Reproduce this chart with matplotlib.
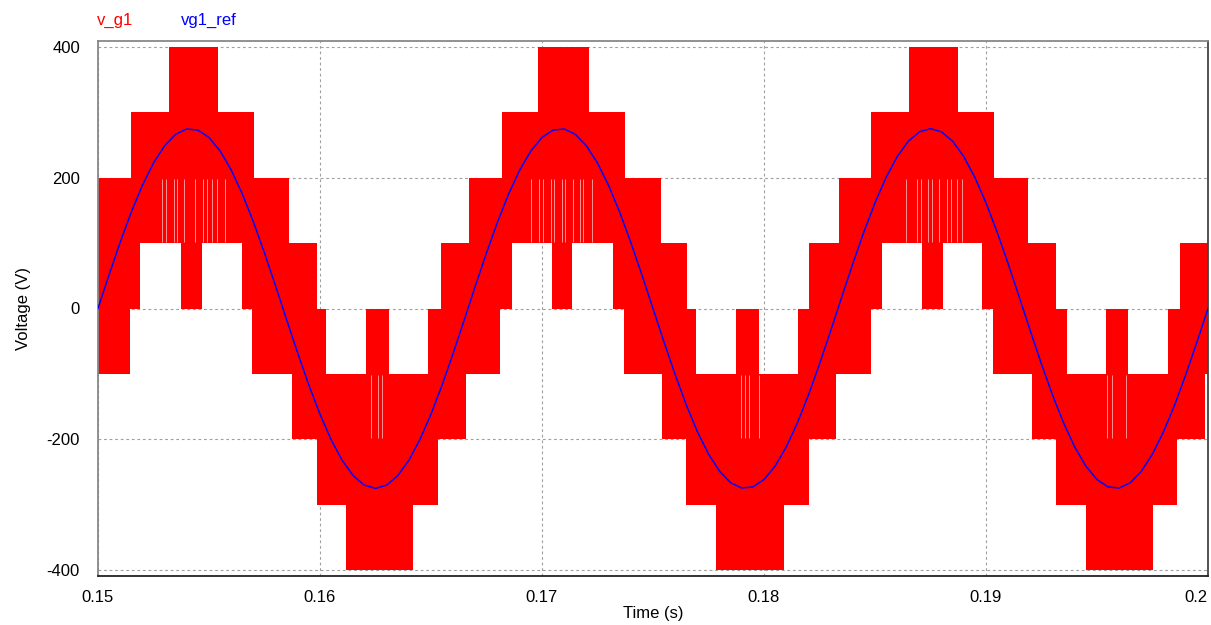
import matplotlib
matplotlib.use("Agg")
import matplotlib.pyplot as plt

plt.rcParams['font.family'] = ['Liberation Sans', 'DejaVu Sans']
plt.rcParams['axes.unicode_minus'] = False

# vg1_ref read every 0.5 ms from 0.15 s to 0.2 s (V)
t_ref = [0.15 + 0.0005 * k for k in range(101)]
vg1_ref = [0, 51.5, 101.2, 147.4, 188.3, 222.5, 248.8, 266.4, 274.5, 272.8,
           261.5, 241.0, 211.9, 175.3, 132.5, 85.0, 34.5, -17.3, -68.4, -117.1,
           -161.6, -200.5, -232.2, -255.7, -270.1, -275.0, -270.1, -255.7, -232.2, -200.5,
           -161.6, -117.1, -68.4, -17.3, 34.5, 85.0, 132.5, 175.3, 211.9, 241.0,
           261.5, 272.8, 274.5, 266.4, 248.8, 222.5, 188.3, 147.4, 101.2, 51.5,
           0, -51.5, -101.2, -147.4, -188.3, -222.5, -248.8, -266.4, -274.5, -272.8,
           -261.5, -241.0, -211.9, -175.3, -132.5, -85.0, -34.5, 17.3, 68.4, 117.1,
           161.6, 200.5, 232.2, 255.7, 270.1, 275.0, 270.1, 255.7, 232.2, 200.5,
           161.6, 117.1, 68.4, 17.3, -34.5, -85.0, -132.5, -175.3, -211.9, -241.0,
           -261.5, -272.8, -274.5, -266.4, -248.8, -222.5, -188.3, -147.4, -101.2, -51.5,
           0]

# v_g1 switching: time spans (s) where the output toggles inside each 100 V band
band_low = [300, 200, 100, 0, -100, -200, -300, -400]
band_spans = [
    [(0.15320, 0.15541), (0.16982, 0.17212), (0.18653, 0.18874)],
    [(0.15149, 0.15703), (0.16820, 0.17374), (0.18482, 0.19036)],
    [(0.15000, 0.15860), (0.16671, 0.17536), (0.18338, 0.19189)],
    [(0.15000, 0.15189), (0.15374, 0.15468), (0.15649, 0.15986), (0.16545, 0.16865),
     (0.17045, 0.17135), (0.17320, 0.17653), (0.18203, 0.18532), (0.18712, 0.18806),
     (0.18982, 0.19315), (0.19874, 0.20000)],
    [(0.15000, 0.15144), (0.15694, 0.16027), (0.16207, 0.16311), (0.16486, 0.16811),
     (0.17369, 0.17694), (0.17874, 0.17977), (0.18153, 0.18482), (0.19032, 0.19365),
     (0.19541, 0.19640), (0.19820, 0.20000)],
    [(0.15874, 0.16658), (0.17541, 0.18324), (0.19207, 0.19986)],
    [(0.15986, 0.16532), (0.17649, 0.18203), (0.19315, 0.19860)],
    [(0.16117, 0.16419), (0.17784, 0.18090), (0.19450, 0.19752)],
]

# instants with no switching edge (thin gaps) inside the 100..200 and -200..-100 bands
gaps_100 = [0.15287, 0.15305, 0.15342, 0.15357, 0.15389, 0.15437, 0.15474, 0.15492,
            0.15515, 0.15537, 0.15572,
            0.16950, 0.16986, 0.17006, 0.17041, 0.17055, 0.17089, 0.17104, 0.17141,
            0.17171, 0.17186, 0.17224,
            0.18638, 0.18688, 0.18706, 0.18737, 0.18755, 0.18790, 0.18823, 0.18842,
            0.18868, 0.18891]
gaps_m200 = [0.16230, 0.16263, 0.16281, 0.17896, 0.17914, 0.17934, 0.17979,
             0.19544, 0.19566, 0.19631]

xticks = [0.15, 0.16, 0.17, 0.18, 0.19, 0.2]
xtick_labels = ["0.15", "0.16", "0.17", "0.18", "0.19", "0.2"]
yticks = [-400, -200, 0, 200, 400]

fig = plt.figure(figsize=(12.11, 6.25), dpi=100)
ax = fig.add_axes([0.0809, 0.0784, 0.9166, 0.856])

for low, spans in zip(band_low, band_spans):
    ax.broken_barh([(a, b - a) for a, b in spans], (low, 100),
                   facecolors="#ff0000", edgecolor="none", zorder=2)

ax.vlines(gaps_100, 102, 198, color="#ffaaaa", lw=0.6, zorder=2.5)
ax.vlines(gaps_m200, -198, -102, color="#ffaaaa", lw=0.6, zorder=2.5)

ax.plot(t_ref, vg1_ref, color="#0000ff", lw=1.1, zorder=3)

ax.set_xlim(0.15, 0.2)
ax.set_ylim(-409, 409)
ax.set_xticks(xticks)
ax.set_xticklabels(xtick_labels)
ax.get_xticklabels()[-1].set_ha("right")
ax.set_yticks(yticks)
ax.tick_params(length=0, labelsize=12, colors="#000000")
ax.tick_params(axis="y", pad=13)
ax.tick_params(axis="x", pad=10)
ax.grid(True, color="#a0a0a0", lw=0.8, linestyle=(0, (2.5, 2.5)), zorder=1)

ax.spines["left"].set_color("#888888")
ax.spines["top"].set_color("#888888")
ax.spines["bottom"].set_color("#222222")
ax.spines["right"].set_color("#444444")
for s in ax.spines.values():
    s.set_linewidth(1.3)

ax.set_xlabel("Time (s)", fontsize=12, labelpad=1)
ax.set_ylabel("Voltage (V)", fontsize=12, labelpad=11)

fig.text(0.0801, 0.967, "v_g1", color="#ff0000", fontsize=12, va="center")
fig.text(0.1495, 0.967, "vg1_ref", color="#0000ff", fontsize=12, va="center")

fig.savefig("out.png", dpi=100)
